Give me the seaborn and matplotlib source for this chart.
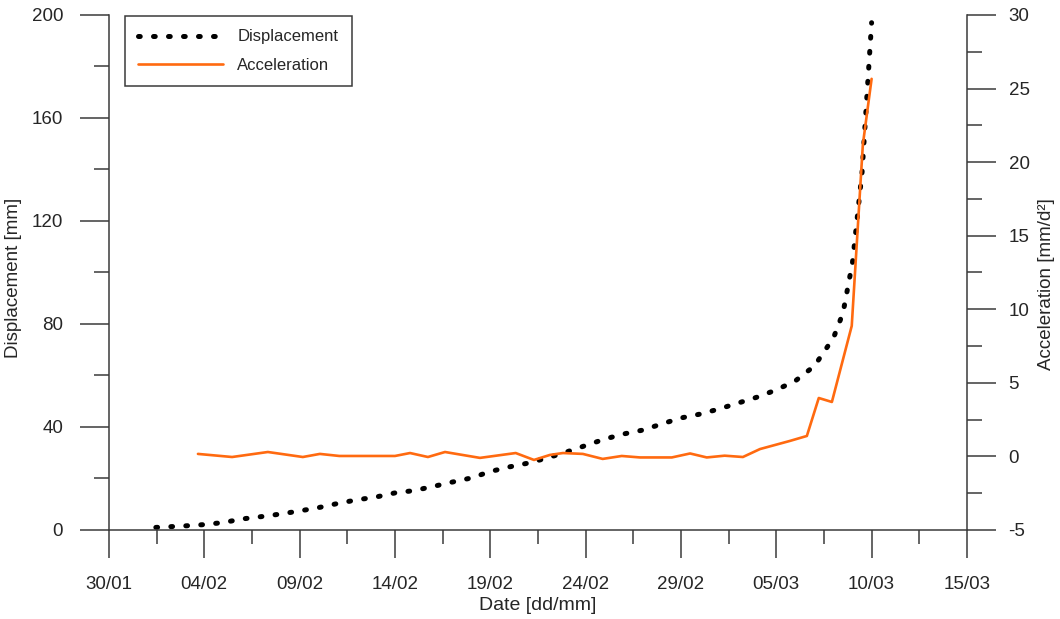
import numpy as np
import pandas as pd
import matplotlib
matplotlib.use("Agg")
import matplotlib.pyplot as plt
import matplotlib.dates as mdates
from matplotlib.ticker import MultipleLocator, FixedLocator
import seaborn as sns

# ---------------- data ----------------
disp_dates = [
    "2016-02-01 11:00", "2016-02-02 00:00", "2016-02-03 00:00", "2016-02-04 00:00", "2016-02-05 00:00",
    "2016-02-06 00:00", "2016-02-07 00:00", "2016-02-08 00:00", "2016-02-09 00:00", "2016-02-10 00:00",
    "2016-02-11 00:00", "2016-02-12 00:00", "2016-02-13 00:00", "2016-02-14 00:00", "2016-02-15 00:00",
    "2016-02-16 00:00", "2016-02-17 00:00", "2016-02-18 00:00", "2016-02-19 00:00", "2016-02-20 00:00",
    "2016-02-21 00:00", "2016-02-22 00:00", "2016-02-23 00:00", "2016-02-24 00:00", "2016-02-25 00:00",
    "2016-02-26 00:00", "2016-02-27 00:00", "2016-02-28 00:00", "2016-02-29 00:00", "2016-03-01 00:00",
    "2016-03-02 00:00", "2016-03-03 00:00", "2016-03-04 00:00", "2016-03-05 00:00", "2016-03-06 00:00",
    "2016-03-07 00:00", "2016-03-08 00:00", "2016-03-08 12:00", "2016-03-09 00:00",
    "2016-03-09 12:00", "2016-03-10 00:00",
]
disp_mm = [
    1.0, 1.2, 1.6, 2.1, 2.9,
    4.3, 5.2, 6.2, 7.4, 8.7,
    10.3, 11.7, 12.8, 14.4, 15.3,
    16.9, 18.6, 20.2, 22.7, 24.5,
    26.0, 28.0, 30.3, 32.8, 35.3,
    37.3, 38.8, 41.2, 43.5, 45.0,
    47.0, 49.3, 51.6, 54.4, 57.9,
    63.7, 74.6, 84.3, 104.0,
    139.0, 197.0,
]

acc_dates = [
    "2016-02-03 16:00", "2016-02-05 11:00", "2016-02-07 08:00", "2016-02-09 04:00",
    "2016-02-10 01:30", "2016-02-11 02:00", "2016-02-14 00:00", "2016-02-14 19:00",
    "2016-02-15 17:30", "2016-02-16 15:00", "2016-02-18 11:00", "2016-02-20 08:00",
    "2016-02-21 07:00", "2016-02-22 03:00", "2016-02-22 19:30", "2016-02-23 20:30",
    "2016-02-24 21:30", "2016-02-25 21:30", "2016-02-26 20:30", "2016-02-28 12:30",
    "2016-02-29 11:30", "2016-03-01 08:30", "2016-03-02 07:00", "2016-03-03 06:00",
    "2016-03-04 03:30", "2016-03-05 17:00", "2016-03-06 14:30", "2016-03-07 05:30",
    "2016-03-07 22:00", "2016-03-08 23:00", "2016-03-09 13:00", "2016-03-10 00:00",
]
acc_mmd2 = [
    0.17, -0.04, 0.30, -0.04,
    0.17, 0.03, 0.03, 0.23,
    -0.04, 0.30, -0.10, 0.23,
    -0.24, 0.10, 0.23, 0.17,
    -0.17, 0.03, -0.07, -0.07,
    0.20, -0.07, 0.05, -0.04,
    0.50, 1.05, 1.39, 3.97,
    3.70, 8.87, 21.2, 25.66,
]

x_tick_dates = ["2016-01-30", "2016-02-04", "2016-02-09", "2016-02-14", "2016-02-19",
                "2016-02-24", "2016-02-29", "2016-03-05", "2016-03-10", "2016-03-15"]
x_tick_labels = ["30/01", "04/02", "09/02", "14/02", "19/02",
                 "24/02", "29/02", "05/03", "10/03", "15/03"]
disp_ticks = [0, 40, 80, 120, 160, 200]
acc_ticks = [-5, 0, 5, 10, 15, 20, 25, 30]

# ---------------- style ----------------
sns.set_theme(style="ticks")
plt.rcParams["font.family"] = ["Liberation Sans", "DejaVu Sans"]
plt.rcParams["axes.unicode_minus"] = False
TXT = "#262626"
SPINE = "#3a3a3a"
ORANGE = "#ff6a10"

fig = plt.figure(figsize=(10.6, 6.19), dpi=100)
ax = fig.add_axes([0.1028, 0.1438, 0.8094, 0.832])
ax2 = ax.twinx()

dd = pd.to_datetime(disp_dates, format="ISO8601")
ad = pd.to_datetime(acc_dates, format="ISO8601")

sns.lineplot(x=dd, y=disp_mm, ax=ax, color="black", linewidth=3.6,
             linestyle=(0, (0.35, 2.65)), dash_capstyle="round", legend=False)
sns.lineplot(x=ad, y=acc_mmd2, ax=ax2, color=ORANGE, linewidth=1.9, legend=False)

# x axis
xt = pd.to_datetime(x_tick_dates, format="ISO8601")
ax.set_xlim(xt[0], xt[-1])
ax.xaxis.set_major_locator(FixedLocator(mdates.date2num(xt)))
ax.set_xticklabels(x_tick_labels)
minor_x = mdates.date2num(xt[:-1]) + 2.5
ax.xaxis.set_minor_locator(FixedLocator(minor_x))

# y axes
ax.set_ylim(disp_ticks[0], disp_ticks[-1])
ax.set_yticks(disp_ticks)
ax.yaxis.set_minor_locator(MultipleLocator(20))
ax2.set_ylim(acc_ticks[0], acc_ticks[-1])
ax2.set_yticks(acc_ticks)
ax2.yaxis.set_minor_locator(MultipleLocator(2.5))

for a in (ax, ax2):
    a.spines["top"].set_visible(False)
    for s in a.spines.values():
        s.set_color(SPINE)
        s.set_linewidth(1.1)
ax.spines["right"].set_visible(False)
ax2.spines["left"].set_visible(False)
ax2.spines["bottom"].set_visible(False)

ax.tick_params(axis="x", which="major", length=20, width=1.1, color=SPINE,
               pad=13, labelsize=13.5, labelcolor=TXT, bottom=True)
ax.tick_params(axis="x", which="minor", length=10, width=1.1, color=SPINE, bottom=True)
ax.tick_params(axis="y", which="major", length=21, width=1.1, color=SPINE,
               pad=12, labelsize=13.5, labelcolor=TXT, left=True)
ax.tick_params(axis="y", which="minor", length=10.5, width=1.1, color=SPINE, left=True)
ax2.tick_params(axis="y", which="major", length=21, width=1.1, color=SPINE,
                pad=9, labelsize=13.5, labelcolor=TXT, right=True)
ax2.tick_params(axis="y", which="minor", length=10.5, width=1.1, color=SPINE, right=True)

ax.set_xlabel("Date [dd/mm]", fontsize=14, color=TXT)
ax.xaxis.set_label_coords(0.5, -0.130)
ax.set_ylabel("Displacement [mm]", fontsize=13.5, color=TXT)
ax.yaxis.set_label_coords(-0.1014, 0.489)
ax2.set_ylabel("Acceleration [mm/d²]", fontsize=13.5, color=TXT)
ax2.yaxis.set_label_coords(1.083, 0.478)

handles = [ax.get_lines()[0], ax2.get_lines()[0]]
leg = ax2.legend(handles, ["Displacement", "Acceleration"], loc="upper left",
                 bbox_to_anchor=(0.0186, 0.998), borderaxespad=0, fontsize=12,
                 frameon=True, fancybox=False, framealpha=1, edgecolor=SPINE,
                 handlelength=5.1, handletextpad=0.84, labelspacing=0.82,
                 borderpad=0.8)
leg.get_frame().set_linewidth(1.1)
for t in leg.get_texts():
    t.set_color(TXT)

fig.savefig("out.png", dpi=100)
